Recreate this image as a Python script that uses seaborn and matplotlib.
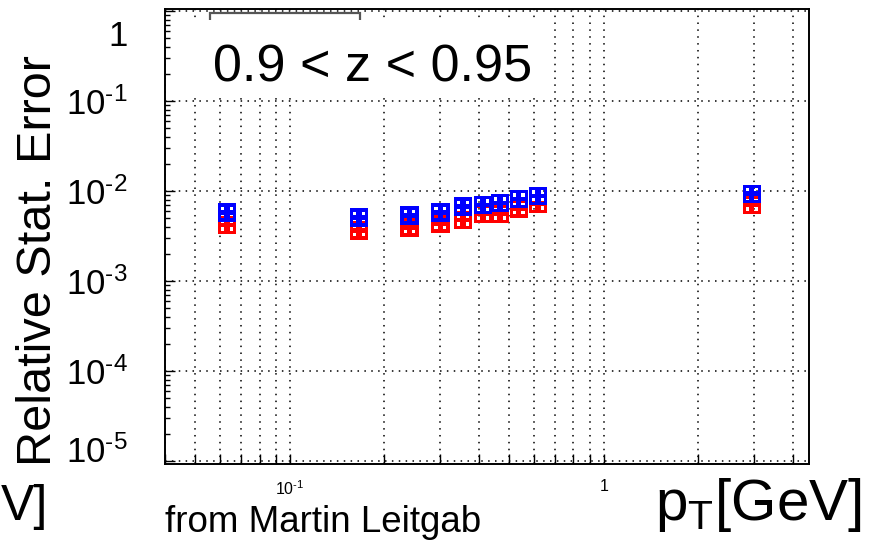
import numpy as np
import pandas as pd
import matplotlib
matplotlib.use("Agg")
import matplotlib.pyplot as plt
import matplotlib.ticker as mticker
from matplotlib.path import Path
from matplotlib.patches import Rectangle
from matplotlib.transforms import ScaledTranslation
import seaborn as sns

# ── data ──
pt = [0.063, 0.166, 0.240, 0.301, 0.356, 0.412, 0.467, 0.536, 0.617, 2.96]
err_blue = [5.8e-3, 5.1e-3, 5.35e-3, 5.8e-3, 6.7e-3, 7.0e-3, 7.35e-3, 8.15e-3, 8.8e-3, 9.3e-3]
err_red = [4.2e-3, 3.67e-3, 3.94e-3, 4.37e-3, 4.77e-3, 5.55e-3, 5.55e-3, 6.4e-3, 7.2e-3, 7.0e-3]

HY = "\u2010"  # plain hyphen as in the ROOT labels
y_ticks = [1e-5, 1e-4, 1e-3, 1e-2, 1e-1, 1]
y_ticklabels = [f"10$^{{\\mathregular{{{HY}{k}}}}}$" for k in (5, 4, 3, 2, 1)] + ["1"]
x_ticks = [0.1, 1]
x_ticklabels = [f"10$^{{\\mathregular{{{HY}1}}}}$", "1"]
x_minor = [0.04, 0.05, 0.06, 0.07, 0.08, 0.09, 0.2, 0.3, 0.4, 0.5, 0.6, 0.7, 0.8, 0.9, 2, 3, 4]

sns.set_theme(style="ticks")
plt.rcParams["font.family"] = ["Liberation Sans", "DejaVu Sans"]
plt.rcParams["mathtext.fontset"] = "custom"
plt.rcParams["mathtext.rm"] = "Liberation Sans"
plt.rcParams["mathtext.it"] = "Liberation Sans:italic"
plt.rcParams["mathtext.bf"] = "Liberation Sans:bold"
for key in ("text.color", "axes.labelcolor", "xtick.color", "ytick.color",
            "xtick.labelcolor", "ytick.labelcolor"):
    plt.rcParams[key] = "black"

df = pd.DataFrame({
    "pt": pt + pt,
    "err": err_red + err_blue,
    "series": ["red"] * len(pt) + ["blue"] * len(pt),
})


# open square marker with a 2x2 grid of holes (like the overlapping ROOT markers)
def grid_marker():
    verts = [(-1, -1), (1, -1), (1, 1), (-1, 1), (-1, -1)]
    codes = [Path.MOVETO, Path.LINETO, Path.LINETO, Path.LINETO, Path.CLOSEPOLY]
    for x0, x1 in [(-0.62, -0.28), (0.28, 0.62)]:
        for y0, y1 in [(-0.62, -0.26), (0.26, 0.62)]:
            verts += [(x0, y0), (x0, y1), (x1, y1), (x1, y0), (x0, y0)]
            codes += [Path.MOVETO, Path.LINETO, Path.LINETO, Path.LINETO, Path.CLOSEPOLY]
    return Path(verts, codes)


fig = plt.figure(figsize=(8.74, 5.41), dpi=100)
fig.patch.set_facecolor("white")
ax = fig.add_axes([165 / 874, 1 - 464 / 541, 644 / 874, 455 / 541])
ax.set_facecolor("white")

sns.scatterplot(
    data=df, x="pt", y="err", hue="series",
    palette={"red": "#ff0000", "blue": "#0000ff"},
    marker=grid_marker(), s=180, edgecolor="none",
    legend=False, ax=ax, zorder=4,
)

ax.set_xscale("log")
ax.set_yscale("log")
ax.set_xlim(0.04, 4.5)
ax.set_ylim(9.3e-6, 1.05)

ax.set_xticks(x_ticks)
ax.set_xticklabels(x_ticklabels)
ax.xaxis.set_minor_locator(mticker.FixedLocator(x_minor))
ax.xaxis.set_minor_formatter(mticker.NullFormatter())
ax.set_yticks(y_ticks)
ax.set_yticklabels(y_ticklabels)
ax.yaxis.set_minor_locator(mticker.LogLocator(base=10, subs=np.arange(2, 10), numticks=20))
ax.yaxis.set_minor_formatter(mticker.NullFormatter())

ax.tick_params(axis="x", which="both", direction="in", length=7, width=1,
               labelsize=11.5, pad=11, color="black", top=False)
ax.tick_params(axis="y", which="major", direction="in", length=7, width=1,
               labelsize=25, pad=27, color="black", right=False)
ax.tick_params(axis="y", which="minor", direction="in", length=3.5, width=1,
               color="black", right=False)

# ROOT keeps the end labels inside the pad
for lab in ax.get_yticklabels():
    if lab.get_text() == "1":
        lab.set_transform(lab.get_transform() + ScaledTranslation(0, -16 / 72, fig.dpi_scale_trans))
    elif "5" in lab.get_text():
        lab.set_transform(lab.get_transform() + ScaledTranslation(0, 9 / 72, fig.dpi_scale_trans))

ax.grid(True, axis="x", which="both", color="black", linestyle=(0, (1, 3.5)), linewidth=1.1)
ax.grid(True, axis="y", which="major", color="black", linestyle=(0, (1, 3.5)), linewidth=1.1)
ax.set_axisbelow(True)

for sp in ax.spines.values():
    sp.set_color("black")
    sp.set_linewidth(1.4)

ax.set_xlabel("")
ax.set_ylabel("Relative Stat. Error", fontsize=35, va="center")
ax.yaxis.set_label_coords(-0.196, 0.448)

# leftover legend frame and the white label box
ax.add_patch(Rectangle((45 / 644, 0.85), 150 / 644, 0.141, transform=ax.transAxes,
                       facecolor="white", edgecolor="#555555", linewidth=1.6, zorder=2))
ax.add_patch(Rectangle((15 / 644, 0.807), 370 / 644, 0.169, transform=ax.transAxes,
                       facecolor="white", edgecolor="none", zorder=3))
fig.text(213 / 874, 1 - 82 / 541, "0.9 < z < 0.95", fontsize=37.5, va="baseline",
         ha="left", zorder=5)

# text around the frame
fig.text(165 / 874, 1 - 532 / 541, "from Martin Leitgab", fontsize=26.5, va="baseline", ha="left")
fig.text(862 / 874, 1 - 520 / 541, r"p$_{\mathregular{T}}$[GeV]", fontsize=42, va="baseline", ha="right")
fig.text(1 / 874, 1 - 520 / 541, "V]", fontsize=36, va="baseline", ha="left")

fig.savefig("out.png", dpi=100, facecolor="white")
